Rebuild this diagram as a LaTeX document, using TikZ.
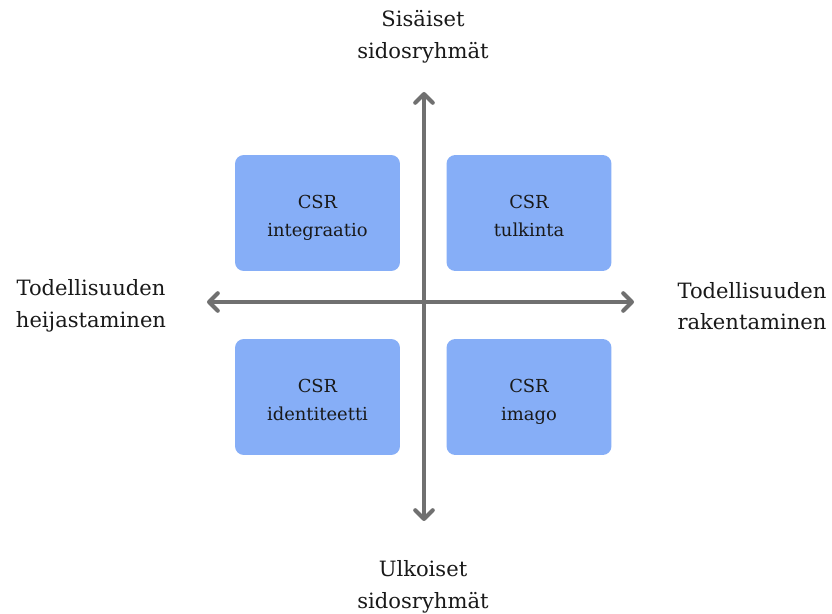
\documentclass[tikz,border=0pt]{standalone}
\usepackage{fontspec}
\setmainfont{DejaVu Serif}
\usetikzlibrary{arrows.meta}
\definecolor{boxblue}{HTML}{86AEF7}
\definecolor{axisgray}{HTML}{707070}
\newcommand{\topstrut}{\rule{0pt}{15.8pt}}
\begin{document}
\begin{tikzpicture}[x=0.02cm,y=-0.02cm,
    quad/.style={fill=boxblue,rounded corners=5pt,minimum width=3.3cm,minimum height=2.32cm,
      align=center,font=\fontsize{10.2}{16}\selectfont,text=black!90},
    axislabel/.style={align=center,font=\fontsize{12}{18}\selectfont,text=black!90},
    axis/.style={axisgray,line width=2.3pt,
      {Straight Barb[round,length=5pt,width=10pt]}-{Straight Barb[round,length=5pt,width=10pt]}}]
  \useasboundingbox (0,0) rectangle (832,614);
  \draw
    (317.5,213) node[quad] (integ){\topstrut CSR\\\strut integraatio}
    (529,213) node[quad] (tulk){\topstrut CSR\\\strut tulkinta}
    (317.5,397) node[quad] (ident){\topstrut CSR\\\strut identiteetti}
    (529,397) node[quad] (imago){\topstrut CSR\\\strut imago};
  \draw
    (423,37) node[axislabel] (sisa){Sisäiset\\sidosryhmät}
    (423,587) node[axislabel] (ulko){Ulkoiset\\sidosryhmät}
    (91,306) node[axislabel] (heij){Todellisuuden\\heijastaminen}
    (752,306) node[axislabel] (rake){Todellisuuden\\rakentaminen};
  \coordinate (top) at (424,92);
  \coordinate (bottom) at (424,521);
  \coordinate (left) at (207,302);
  \coordinate (right) at (634,302);
  \begin{scope}
    \draw[axis] (bottom) to (top);
    \draw[axis] (left) to (right);
  \end{scope}
\end{tikzpicture}
\end{document}
